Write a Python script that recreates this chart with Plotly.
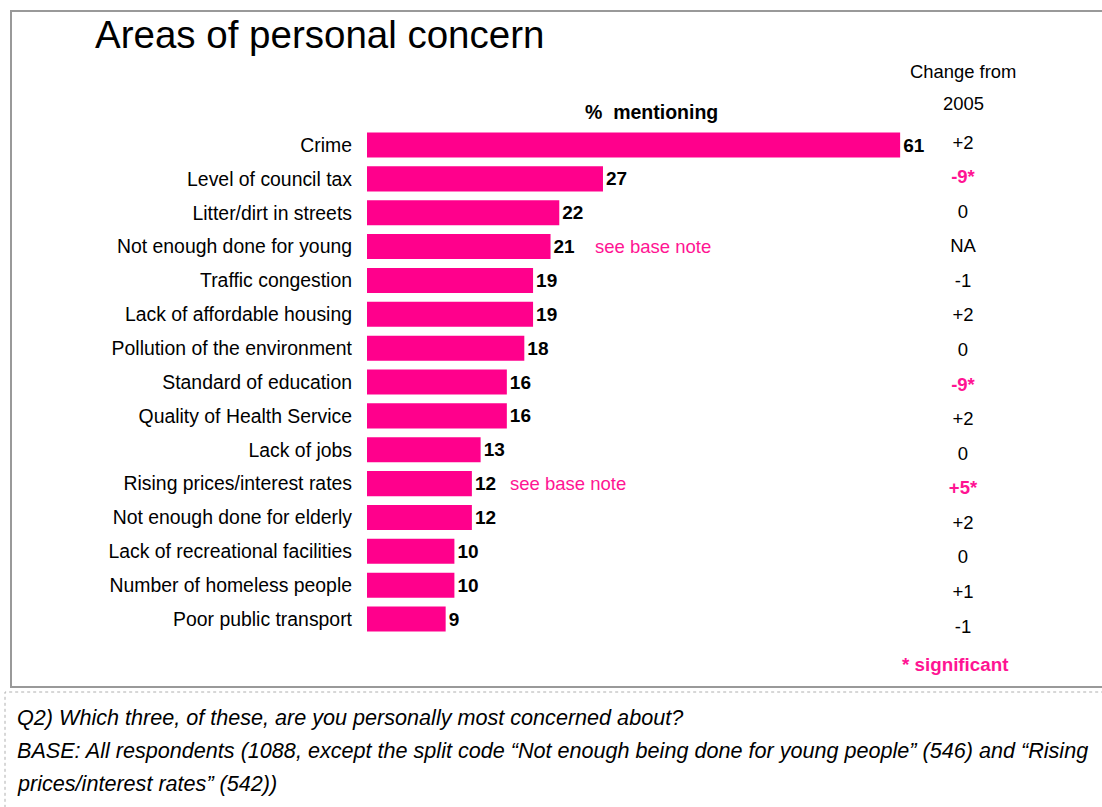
import plotly.graph_objects as go

categories = ["Crime", "Level of council tax", "Litter/dirt in streets", "Not enough done for young",
              "Traffic congestion", "Lack of affordable housing", "Pollution of the environment",
              "Standard of education", "Quality of Health Service", "Lack of jobs",
              "Rising prices/interest rates", "Not enough done for elderly",
              "Lack of recreational facilities", "Number of homeless people", "Poor public transport"]
values = [61, 27, 22, 21, 19, 19, 18, 16, 16, 13, 12, 12, 10, 10, 9]
changes = ["+2", "-9*", "0", "NA", "-1", "+2", "0", "-9*", "+2", "0", "+5*", "+2", "0", "+1", "-1"]
significant = [False, True, False, False, False, False, False, True, False, False, True, False, False, False, False]
base_note_items = ["Not enough done for young", "Rising prices/interest rates"]

W, H = 1102, 807
PINK = "#FF008C"
PINK_TXT = "#FF1493"
FONT = "Liberation Sans, Arial, sans-serif"

idx = list(range(len(categories)))

# pixel geometry helpers
bar_top_px, bar_step = 145, 33.86
chg_top_px, chg_step = 144, 34.57
x0_px, px_per_unit = 367, 8.74

fig = go.Figure()
fig.add_trace(go.Bar(
    x=values, y=idx, orientation="h", width=0.74,
    marker=dict(color=PINK, line=dict(width=0)),
    text=[f"<b>{v}</b>" for v in values], textposition="outside",
    textfont=dict(family=FONT, size=19, color="black"),
    cliponaxis=False, hoverinfo="skip", xaxis="x", yaxis="y"))

chg_text = [f"<b>{c}</b>" if s else c for c, s in zip(changes, significant)]
chg_col = [PINK_TXT if s else "black" for s in significant]
fig.add_trace(go.Scatter(
    x=[963] * len(changes), y=idx, mode="text", text=chg_text,
    textfont=dict(family=FONT, size=18.5, color=chg_col), textposition="middle center",
    cliponaxis=False, hoverinfo="skip", xaxis="x2", yaxis="y2"))

annotations = []
for cat, v, i in zip(categories, values, idx):
    if cat in base_note_items:
        annotations.append(dict(x=v, y=i, xref="x", yref="y", text="see base note",
                                showarrow=False, xanchor="left", yanchor="middle",
                                xshift=42 if v >= 20 else 36,
                                font=dict(family=FONT, size=18.5, color=PINK_TXT)))

def ann(text, xpx, ypx, size, xanchor="center", color="black", **kw):
    annotations.append(dict(text=text, x=xpx / W, y=1 - ypx / H, xref="paper", yref="paper",
                            showarrow=False, xanchor=xanchor, yanchor="middle",
                            font=dict(family=FONT, size=size, color=color), **kw))

ann("Areas of personal concern", 93, 35, 38.5, xanchor="left")
ann("Change from", 963, 71, 18.4)
ann("2005", 963, 103, 18.4)
ann("<b>%  mentioning</b>", 651, 112, 19.5)
ann("<b>* significant</b>", 955, 664, 18.8, color=PINK_TXT)
NOTE = 21.6
ann("<i>Q2) Which three, of these, are you personally most concerned about?</i>", 15, 717, NOTE, xanchor="left")
ann("<i>BASE: All respondents (1088, except the split code \u201cNot enough being done for young people\u201d (546) and \u201cRising</i>",
    15, 750, NOTE, xanchor="left")
ann("<i>prices/interest rates\u201d (542))</i>", 15, 783, NOTE, xanchor="left")

shapes = [
    dict(type="rect", xref="paper", yref="paper", x0=11 / W, x1=1.01, y0=1 - 687 / H, y1=1 - 11 / H,
         line=dict(color="#999999", width=2), fillcolor="rgba(0,0,0,0)", layer="below"),
    dict(type="rect", xref="paper", yref="paper", x0=5 / W, x1=1.01, y0=-0.02, y1=1 - 692 / H,
         line=dict(color="#B0B0B0", width=1, dash="dot"), fillcolor="rgba(0,0,0,0)", layer="below"),
]

fig.update_layout(
    width=W, height=H, margin=dict(l=0, r=0, t=0, b=0),
    paper_bgcolor="white", plot_bgcolor="rgba(0,0,0,0)", showlegend=False,
    font=dict(family=FONT, size=18, color="black"),
    xaxis=dict(domain=[x0_px / W, 1], range=[0, (W - x0_px) / px_per_unit], visible=False, fixedrange=True),
    yaxis=dict(domain=[0, 1], range=[(H - bar_top_px) / bar_step, -bar_top_px / bar_step],
               tickvals=idx, ticktext=categories, showgrid=False, zeroline=False, showline=False,
               ticks="", ticklabelstandoff=14, tickfont=dict(family=FONT, size=19.4, color="black"),
               anchor="x"),
    xaxis2=dict(domain=[0, 1], range=[0, W], visible=False, anchor="y2"),
    yaxis2=dict(domain=[0, 1], range=[(H - chg_top_px) / chg_step, -chg_top_px / chg_step],
                visible=False, overlaying="y", anchor="x2"),
    annotations=annotations, shapes=shapes,
)

fig.write_html("out.html")
